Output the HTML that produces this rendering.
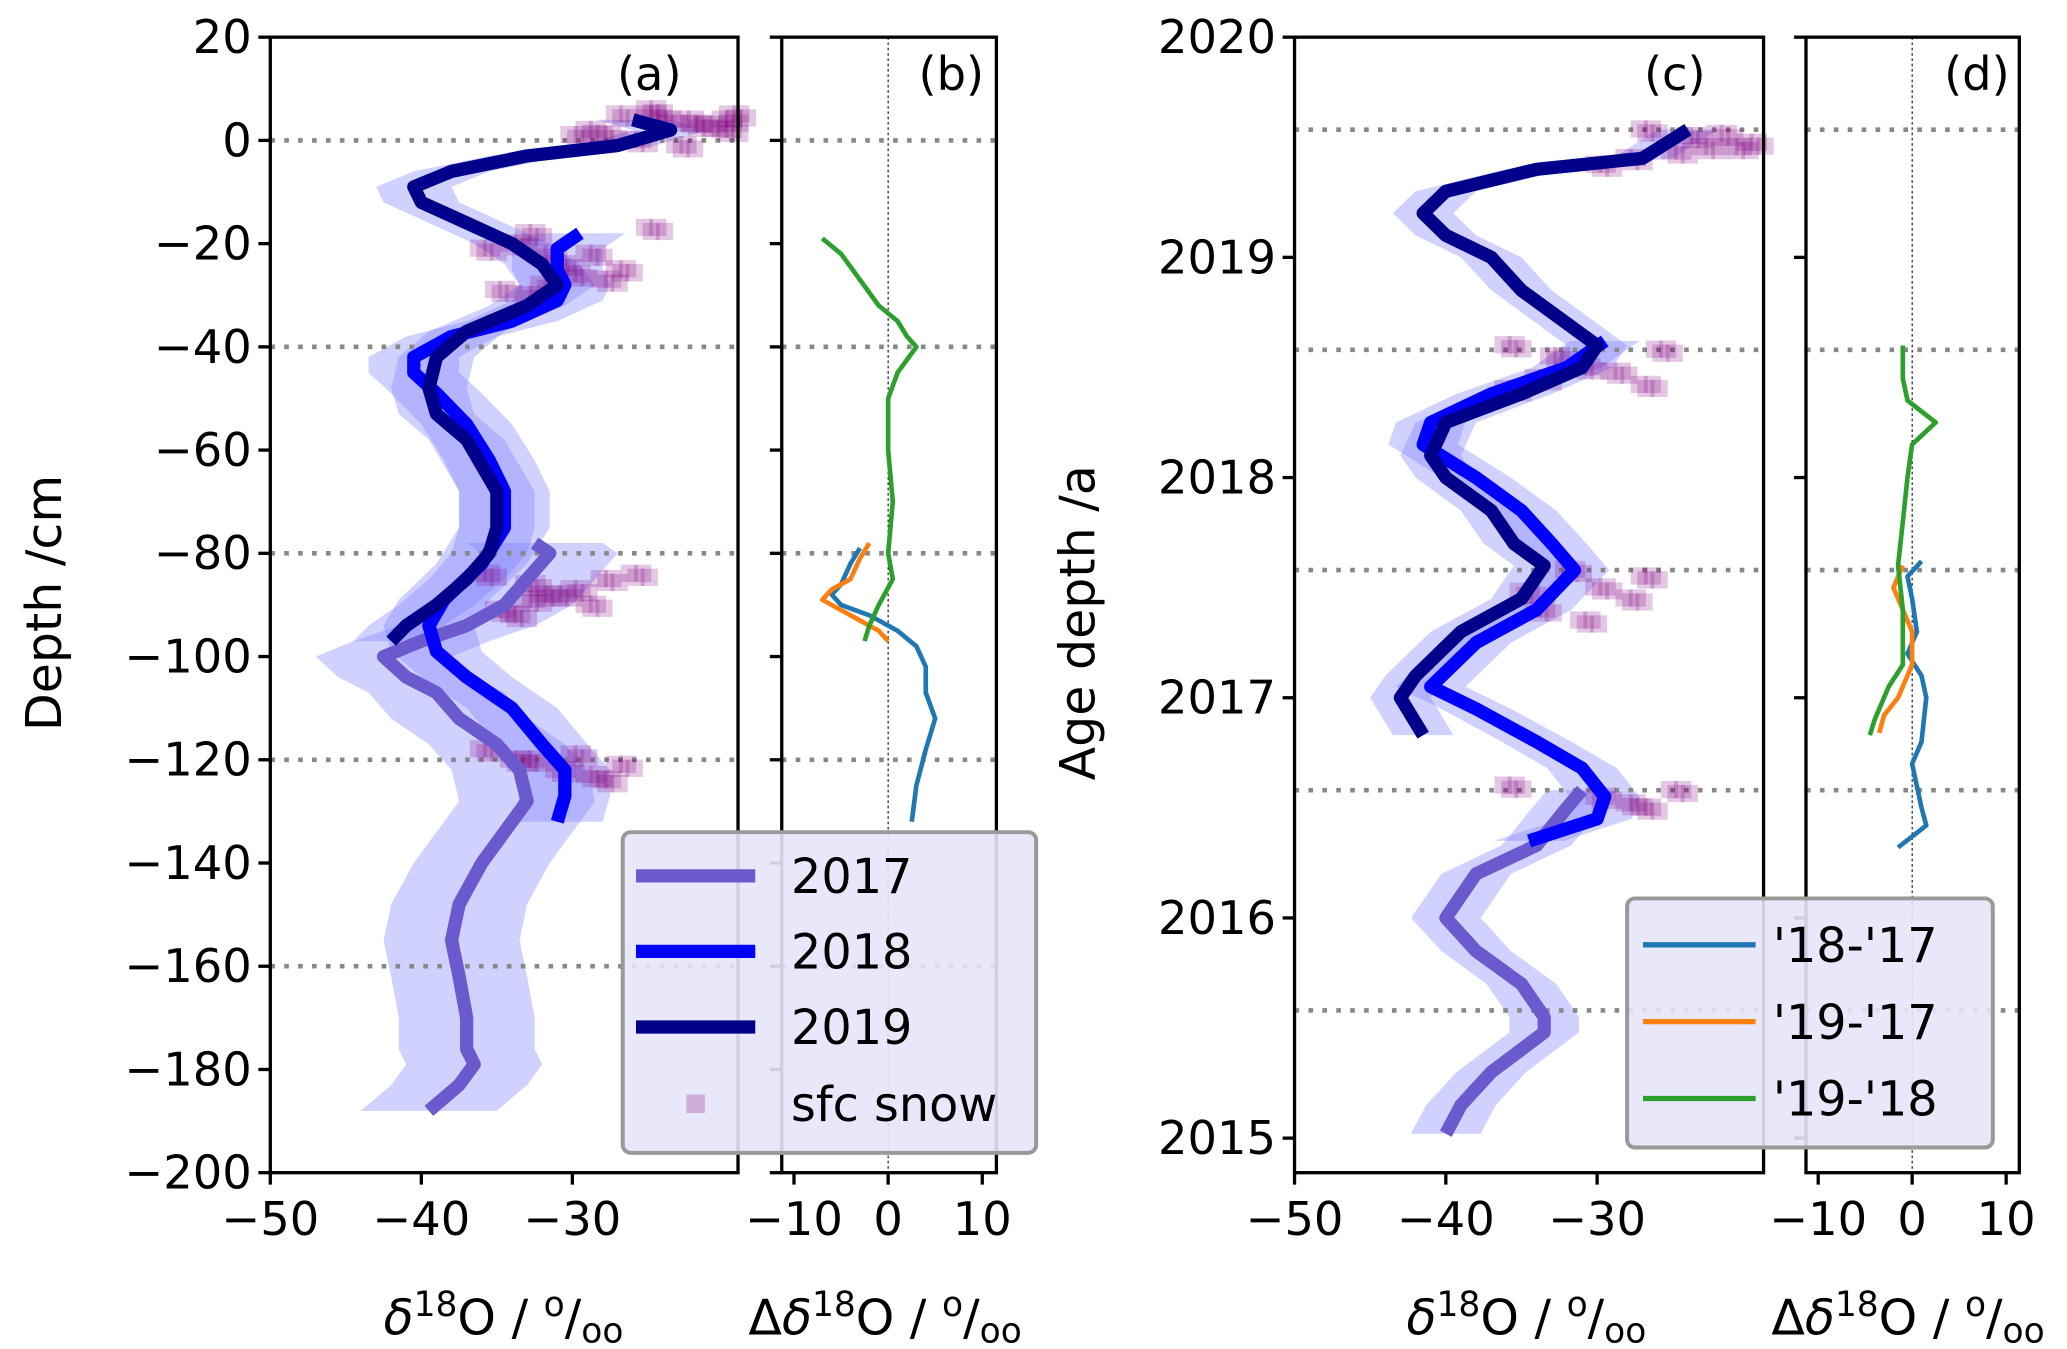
<!DOCTYPE html>
<html><head><meta charset="utf-8"><style>
html,body{margin:0;padding:0;background:#fff}
svg{display:block;font-family:"DejaVu Sans","Liberation Sans",sans-serif}
</style></head><body>
<svg id="fig" xmlns="http://www.w3.org/2000/svg" width="2067" height="1349" viewBox="0 0 1560 1018"></svg>
<script>
// ---------- data ----------
const depth19 = [4,2,-1,-3,-6,-9,-12,-16,-20,-24,-28,-32,-37,-42,-48,-53,-58,-63,-68,-75,-80,-85,-90,-94,-97];
const d18O19  = [-26,-23.5,-27,-33,-38,-40.5,-40,-37,-34,-32,-31,-33,-37,-39,-39.5,-39,-37,-36,-35,-35,-35.5,-37,-39,-41,-42];
const depth18 = [-18,-21,-25,-28,-31,-35,-38,-42,-45,-49,-55,-62,-68,-75,-82,-89,-94,-99,-104,-110,-117,-122,-127,-132];
const d18O18  = [-29.5,-31,-31,-30.5,-31,-34,-38,-40.5,-40.5,-39,-37,-35.5,-34.5,-34.5,-36,-38.5,-39.5,-39,-37,-34,-32,-30.5,-30.5,-31];
const depth17 = [-78,-80,-85,-90,-94,-97,-100,-104,-107,-112,-117,-122,-128,-132,-140,-148,-155,-162,-170,-176,-179,-183,-188];
const d18O17  = [-32.5,-31.5,-33,-34.5,-37,-40,-42.5,-41,-39,-37.5,-35,-33.5,-33,-34,-36,-37.5,-38,-37.5,-37,-37,-36.5,-37.5,-39.5];
const spread19 = 2.5, spread18 = 3, spread17 = 4.5;
const snowDepth = [5,4,3,2,1,0,-1,2,4,5,3,1,6,5,4,-18,-20,-22,-24,-26,-28,-30,-22,-25,-27,-17,-21,-29,-84,-86,-88,-90,-92,-88,-85,-91,-84,-87,-89,-118,-120,-122,-124,-121,-119,-123,-120];
const snowD18O  = [-27,-24,-21,-20,-30,-26,-23,-29,-20,-25,-22,-28,-25,-19.5,-22.5,-33,-34,-32,-31,-30,-32,-33,-29,-27,-28,-25,-36,-35,-36,-33,-31,-29,-34,-32,-28,-35,-26,-30,-33,-36,-33,-31,-28,-27,-30,-29,-34];
// panel b differences
const diffDepthG = [-19,-22,-27,-32,-35,-38,-40,-45,-50,-60,-70,-80,-85,-90,-94,-97];
const diffValG   = [-7,-5,-3,-1,1,2,3,1,0,0,0.5,0,0.5,-1,-2,-2.5];
const diffDepthO = [-78,-81,-85,-87,-89,-91,-93,-95,-97];
const diffValO   = [-2,-3,-4,-6,-7,-5,-3,-1,0];
const diffDepthB = [-79,-82,-86,-88,-90,-92,-95,-98,-102,-107,-112,-118,-125,-132];
const diffValB   = [-3,-4,-5,-6,-5,-2,1,3,4,4,5,4,3,2.5];
// panel c age scale
const age19 = [2019.58,2019.45,2019.4,2019.3,2019.2,2019.1,2019.0,2018.85,2018.7,2018.6,2018.5,2018.38,2018.25,2018.1,2018.0,2017.85,2017.7,2017.6,2017.45,2017.3,2017.1,2017.0,2016.83];
const a18O19 = [-24,-27,-34,-40,-41.5,-40,-37,-35,-32,-30,-31,-35,-40,-41,-40,-37,-35.5,-33.5,-35,-39,-42,-43,-41.5];
const age18 = [2018.62,2018.5,2018.38,2018.25,2018.15,2018.0,2017.85,2017.7,2017.58,2017.4,2017.25,2017.05,2016.95,2016.8,2016.68,2016.55,2016.45,2016.35];
const a18O18 = [-29.5,-32,-37,-41,-41.5,-38,-35,-33,-31.5,-34,-38,-41,-38,-34,-31,-29.5,-30,-34.5];
const age17 = [2016.58,2016.5,2016.33,2016.2,2016.0,2015.85,2015.7,2015.55,2015.48,2015.3,2015.15,2015.02];
const a18O17 = [-31,-32,-34,-38,-40,-38,-35,-33.5,-33.5,-37,-39,-40];
const snowAge = [2019.58,2019.55,2019.5,2019.45,2019.52,2019.48,2019.56,2019.42,2019.5,2018.6,2018.55,2018.5,2018.45,2018.4,2018.58,2018.48,2018.42,2017.58,2017.5,2017.45,2017.4,2017.35,2017.55,2017.48,2016.6,2016.55,2016.5,2016.58,2016.52];
const snowA18O  = [-27,-24,-21,-28,-20,-25,-22,-30,-23,-36,-33,-31,-34,-36,-26,-29,-27,-32,-30,-28,-34,-31,-27,-35,-36,-30,-27,-25,-28];
const diffAgeG = [2018.6,2018.45,2018.35,2018.25,2018.15,2018.0,2017.8,2017.6,2017.4,2017.15,2017.05,2016.9,2016.83];
const diffAValG = [-1,-1,-0.5,2.5,0,-0.5,-1,-1.5,-1,-1,-2.5,-4,-4.5];
const diffAgeO = [2017.6,2017.5,2017.4,2017.3,2017.15,2017.0,2016.92,2016.84];
const diffAValO = [-1,-2,-1,0,0,-1.5,-3,-3.5];
const diffAgeB = [2017.62,2017.55,2017.45,2017.3,2017.2,2017.1,2017.0,2016.8,2016.7,2016.5,2016.42,2016.32];
const diffAValB = [1,-0.5,0,0.5,-0.5,1,1.5,1,0,1,1.5,-1.5];
const depthTicks = [20,0,-20,-40,-60,-80,-100,-120,-140,-160,-180,-200];
const depthGrid = [0,-40,-80,-120,-160];
const ageTicks = [2020,2019,2018,2017,2016,2015];
const ageGrid = [2019.58,2018.58,2017.58,2016.58,2015.58];
const isoTicks = [-50,-40,-30];
const diffTicks = [-10,0,10];

// ---------- drawing ----------
const svg = document.getElementById('fig');
const NS = 'http://www.w3.org/2000/svg';
function mk(tag, attrs, parent){const e=document.createElementNS(NS,tag);for(const k in attrs)e.setAttribute(k,attrs[k]);(parent||svg).appendChild(e);return e;}
function txt(s,attrs,parent){const e=mk('text',attrs,parent);e.textContent=s;return e;}
const TOP=28, BOT=885;
const panels = {
 a:{x0:204,x1:557,xmin:-50,xmax:-19.03,ymin:-200,ymax:20},
 b:{x0:590,x1:752,xmin:-11.3,xmax:11.5,ymin:-200,ymax:20},
 c:{x0:977,x1:1331,xmin:-50,xmax:-19,ymin:2014.843,ymax:2020},
 d:{x0:1363,x1:1524,xmin:-11.3,xmax:11.4,ymin:2014.843,ymax:2020}
};
function X(p,v){return p.x0+(v-p.xmin)/(p.xmax-p.xmin)*(p.x1-p.x0);}
function Y(p,v){return BOT-(v-p.ymin)/(p.ymax-p.ymin)*(BOT-TOP);}
function pts(p,xs,ys){return xs.map((v,i)=>X(p,v).toFixed(1)+','+Y(p,ys[i]).toFixed(1)).join(' ');}
function band(p,xs,ys,s,name){
 const L=xs.map((v,i)=>X(p,v-s).toFixed(1)+','+Y(p,ys[i]).toFixed(1));
 const R=xs.map((v,i)=>X(p,v+s).toFixed(1)+','+Y(p,ys[i]).toFixed(1)).reverse();
 const e=mk('polygon',{points:L.concat(R).join(' '),fill:'#7b7bff','fill-opacity':0.35,stroke:'none'});
 
 
}
function line(p,xs,ys,col,w,name){
 const e=mk('polyline',{points:pts(p,xs,ys),fill:'none',stroke:col,'stroke-width':w,'stroke-linejoin':'round'});
 
 
}
function snow(p,xs,ys,name){
 const g=mk('g',{});
 
 
 xs.forEach((v,i)=>{
  for(let k=0;k<4;k++){
   const r=mk('rect',{x:X(p,v)-9+k*5,y:Y(p,ys[i])-7+(k%2)*3,width:13,height:13,fill:'#800080','fill-opacity':0.22},g);
   
   
  }
 });
}
function grid(p,vals){
 vals.forEach(v=>{
  const e=mk('line',{x1:p.x0,x2:p.x1,y1:Y(p,v),y2:Y(p,v),stroke:'#888','stroke-width':3.5,'stroke-dasharray':'3.5 7'});
  
  
 });
}
function zero(p){
 const e=mk('line',{x1:X(p,0),x2:X(p,0),y1:TOP,y2:BOT,stroke:'#000','stroke-width':0.8,'stroke-dasharray':'2 2'});
 
 
}
function frame(p,xt,yt,ylab){
 const e=mk('rect',{x:p.x0,y:TOP,width:p.x1-p.x0,height:BOT-TOP,fill:'none',stroke:'#000','stroke-width':2.5});
 
 
 xt.forEach(v=>{
  mk('line',{x1:X(p,v),x2:X(p,v),y1:BOT,y2:BOT+9,stroke:'#000','stroke-width':2.5});
  const t=txt(String(v).replace('-','\u2212'),{x:X(p,v),y:BOT+47,'font-size':35,'text-anchor':'middle'});
  
  
 });
 yt.forEach(v=>{
  mk('line',{x1:p.x0-9,x2:p.x0,y1:Y(p,v),y2:Y(p,v),stroke:'#000','stroke-width':2.5});
  if(ylab){
   const t=txt(String(v).replace('-','\u2212'),{x:p.x0-14,y:Y(p,v)+12,'font-size':35,'text-anchor':'end'});
   
   
  }
 });
}
const A=panels.a,B=panels.b,C=panels.c,D=panels.d;
band(A,d18O17,depth17,spread17,'band-2017');
band(A,d18O18,depth18,spread18,'band-2018');
band(A,d18O19,depth19,spread19,'band-2019');
grid(A,depthGrid);
snow(A,snowD18O,snowDepth,'sfc-snow-a');
line(A,d18O17,depth17,'#6a5acd',10,'line-2017');
line(A,d18O18,depth18,'#0000ff',10,'line-2018');
line(A,d18O19,depth19,'#00008b',10,'line-2019');
frame(A,isoTicks,depthTicks,true);
grid(B,depthGrid);zero(B);
line(B,diffValB,diffDepthB,'#1f77b4',3.5,'diff-18-17');
line(B,diffValO,diffDepthO,'#ff7f0e',3.5,'diff-19-17');
line(B,diffValG,diffDepthG,'#2ca02c',3.5,'diff-19-18');
frame(B,diffTicks,depthTicks,false);
band(C,a18O17,age17,2.3,'band-2017-age');
band(C,a18O18,age18,2.3,'band-2018-age');
band(C,a18O19,age19,2,'band-2019-age');
grid(C,ageGrid);
snow(C,snowA18O,snowAge,'sfc-snow-c');
line(C,a18O17,age17,'#6a5acd',10,'line-2017-age');
line(C,a18O18,age18,'#0000ff',10,'line-2018-age');
line(C,a18O19,age19,'#00008b',10,'line-2019-age');
frame(C,isoTicks,ageTicks,true);
grid(D,ageGrid);zero(D);
line(D,diffAValB,diffAgeB,'#1f77b4',3.5,'diff-18-17-age');
line(D,diffAValO,diffAgeO,'#ff7f0e',3.5,'diff-19-17-age');
line(D,diffAValG,diffAgeG,'#2ca02c',3.5,'diff-19-18-age');
frame(D,diffTicks,ageTicks,false);
</script>
<svg style="position:absolute;left:0;top:0" width="2067" height="1349" viewBox="0 0 1560 1018" font-family="DejaVu Sans, Liberation Sans, sans-serif">
 <text x="490" y="68" font-size="35" text-anchor="middle">(a)</text>
 <text x="718" y="68" font-size="35" text-anchor="middle">(b)</text>
 <text x="1264" y="68" font-size="35" text-anchor="middle">(c)</text>
 <text x="1492" y="68" font-size="35" text-anchor="middle">(d)</text>
 <text transform="translate(46,455) rotate(-90)" font-size="37" text-anchor="middle">Depth /cm</text>
 <text transform="translate(826,470) rotate(-90)" font-size="37" text-anchor="middle">Age depth /a</text>
 <text x="380" y="1007" font-size="37" text-anchor="middle"><tspan font-style="italic">δ</tspan><tspan dy="-14" font-size="26">18</tspan><tspan dy="14">O / </tspan><tspan dy="-14" font-size="26">o</tspan><tspan dy="14">/</tspan><tspan dy="6" font-size="26">oo</tspan></text>
 <text x="668" y="1007" font-size="37" text-anchor="middle">Δ<tspan font-style="italic">δ</tspan><tspan dy="-14" font-size="26">18</tspan><tspan dy="14">O / </tspan><tspan dy="-14" font-size="26">o</tspan><tspan dy="14">/</tspan><tspan dy="6" font-size="26">oo</tspan></text>
 <text x="1152" y="1007" font-size="37" text-anchor="middle"><tspan font-style="italic">δ</tspan><tspan dy="-14" font-size="26">18</tspan><tspan dy="14">O / </tspan><tspan dy="-14" font-size="26">o</tspan><tspan dy="14">/</tspan><tspan dy="6" font-size="26">oo</tspan></text>
 <text x="1440" y="1007" font-size="37" text-anchor="middle">Δ<tspan font-style="italic">δ</tspan><tspan dy="-14" font-size="26">18</tspan><tspan dy="14">O / </tspan><tspan dy="-14" font-size="26">o</tspan><tspan dy="14">/</tspan><tspan dy="6" font-size="26">oo</tspan></text>
 <g>
  <rect x="470" y="628" width="312" height="242" rx="6" fill="#e6e6fa" fill-opacity="0.9" stroke="#999" stroke-width="3"/>
  <line x1="480" x2="570" y1="661" y2="661" stroke="#6a5acd" stroke-width="10"/>
  <text x="597" y="674" font-size="36">2017</text>
  <line x1="480" x2="570" y1="718" y2="718" stroke="#0000ff" stroke-width="10"/>
  <text x="597" y="731" font-size="36">2018</text>
  <line x1="480" x2="570" y1="775" y2="775" stroke="#00008b" stroke-width="10"/>
  <text x="597" y="788" font-size="36">2019</text>
  <rect x="518" y="826" width="14" height="14" fill="#800080" fill-opacity="0.25"/>
  <text x="597" y="846" font-size="36">sfc snow</text>
 </g>
 <g>
  <rect x="1228" y="678" width="276" height="188" rx="6" fill="#e6e6fa" fill-opacity="0.9" stroke="#999" stroke-width="3"/>
  <line x1="1240" x2="1325" y1="713" y2="713" stroke="#1f77b4" stroke-width="4"/>
  <text x="1338" y="726" font-size="36">'18-'17</text>
  <line x1="1240" x2="1325" y1="771" y2="771" stroke="#ff7f0e" stroke-width="4"/>
  <text x="1338" y="784" font-size="36">'19-'17</text>
  <line x1="1240" x2="1325" y1="829" y2="829" stroke="#2ca02c" stroke-width="4"/>
  <text x="1338" y="842" font-size="36">'19-'18</text>
 </g>
</svg>
</body></html>
